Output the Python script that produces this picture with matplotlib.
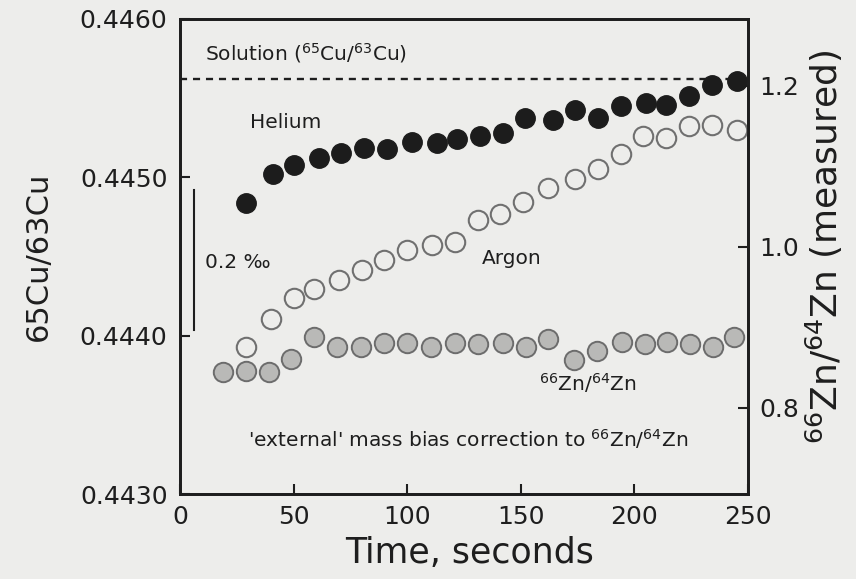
import matplotlib
matplotlib.use("Agg")
import matplotlib.pyplot as plt

# Helium: 65Cu/63Cu (left axis)
he_time = [29, 41, 50, 61, 71, 81, 91, 102, 113, 122, 132, 142, 152, 164, 174,
           184, 194, 205, 214, 224, 234, 245]
he_ratio = [0.44484, 0.445021, 0.445079, 0.445125, 0.445152, 0.445188, 0.445177,
            0.445225, 0.445215, 0.445240, 0.445260, 0.445281, 0.445375, 0.445365,
            0.445423, 0.445375, 0.445448, 0.445469, 0.445458, 0.445515, 0.445583,
            0.445610]

# Argon: 65Cu/63Cu (left axis)
ar_time = [29, 40, 50, 59, 70, 80, 90, 100, 111, 121, 131, 141, 151, 162, 174,
           184, 194, 204, 214, 224, 234, 245]
ar_ratio = [0.443927, 0.444104, 0.444240, 0.444292, 0.444354, 0.444417, 0.444479,
            0.444542, 0.444573, 0.444594, 0.444729, 0.444771, 0.444844, 0.444935,
            0.444990, 0.445052, 0.445146, 0.445260, 0.445250, 0.445323, 0.445333,
            0.445302]

# 66Zn/64Zn measured (right axis)
zn_time = [19, 29, 39, 49, 59, 69, 79.5, 90, 100, 110.5, 121, 131, 142, 152.5,
           162, 173.5, 183.5, 194.5, 204.5, 214.5, 224.5, 234.5, 244]
zn_ratio = [0.845, 0.846, 0.845, 0.861, 0.888, 0.876, 0.876, 0.881, 0.881, 0.876,
            0.881, 0.879, 0.881, 0.876, 0.885, 0.859, 0.871, 0.882, 0.879, 0.882,
            0.879, 0.876, 0.888]

solution_ratio = 0.44562

x_ticks = [0, 50, 100, 150, 200, 250]
cu_ticks = [0.4430, 0.4440, 0.4450, 0.4460]
zn_ticks = [0.8, 1.0, 1.2]

BG = "#ededeb"
INK = "#1e1e1e"

plt.rcParams["font.family"] = ["DejaVu Sans"]
plt.rcParams["mathtext.fontset"] = "dejavusans"

fig = plt.figure(figsize=(8.56, 5.79), dpi=100, facecolor=BG)
ax = fig.add_axes([180 / 856, 1 - 494 / 579, 568 / 856, 475 / 579])
ax2 = ax.twinx()

ax.set_xlim(0, 250)
ax.set_ylim(0.4430, 0.4460)
ax2.set_ylim(0.693, 1.283)

ax.set_xticks(x_ticks)
ax.set_xticklabels([str(v) for v in x_ticks])
ax.set_yticks(cu_ticks)
ax.set_yticklabels([f"{v:.4f}" for v in cu_ticks])
ax2.set_yticks(zn_ticks)
ax2.set_yticklabels([f"{v:.1f}" for v in zn_ticks])

for a in (ax, ax2):
    for s in a.spines.values():
        s.set_linewidth(2.0)
        s.set_color(INK)
ax.tick_params(axis="both", direction="in", length=7, width=1.5, colors=INK,
               labelsize=18)
ax.tick_params(axis="y", pad=9)
ax.tick_params(axis="x", pad=8)
ax2.tick_params(axis="y", direction="in", length=7, width=1.5, colors=INK,
                labelsize=18, pad=8)

# solution reference line
ax.axhline(solution_ratio, color=INK, linestyle=(0, (3, 2.5)), linewidth=1.7)

# data series
ax2.plot(zn_time, zn_ratio, linestyle="none", marker="o", markersize=14,
         markerfacecolor="#b9b9b7", markeredgecolor="#6c6c6c", markeredgewidth=1.4)
ax.plot(ar_time, ar_ratio, linestyle="none", marker="o", markersize=14,
        markerfacecolor="none", markeredgecolor="#707070", markeredgewidth=1.5)
ax.plot(he_time, he_ratio, linestyle="none", marker="o", markersize=14,
        markerfacecolor="#1c1c1c", markeredgecolor="#1c1c1c", markeredgewidth=1.0)
ax.set_zorder(ax2.get_zorder() + 1)
ax.patch.set_visible(False)
ax2.patch.set_facecolor(BG)

# 0.2 per mil scale bar
ax.plot([6.2, 6.2], [0.444035, 0.444920], color=INK, linewidth=1.5)

txt = dict(color=INK, fontsize=14.5)
ax.text(11, 0.445738, r"Solution ($^{65}$Cu/$^{63}$Cu)", ha="left", va="baseline", **txt)
ax.text(31, 0.445347, "Helium", ha="left", va="center", **txt)
ax.text(133, 0.44449, "Argon", ha="left", va="center", **txt)
ax.text(11, 0.444465, "0.2 ‰", ha="left", va="center", **txt)
ax.text(158, 0.44365, r"$^{66}$Zn/$^{64}$Zn", ha="left", va="baseline", **txt)
ax.text(127, 0.44330, r"'external' mass bias correction to $^{66}$Zn/$^{64}$Zn",
        ha="center", va="baseline", **txt)

ax.set_xlabel("Time, seconds", fontsize=25, color=INK, va="center")
ax.xaxis.set_label_coords(0.51, -(553 - 494) / 475)
ax.set_ylabel("65Cu/63Cu", fontsize=22, color=INK, va="center")
ax.yaxis.set_label_coords((38 - 180) / 568, 0.5)
ax2.set_ylabel(r"$^{66}$Zn/$^{64}$Zn (measured)", fontsize=26, color=INK,
               va="center", rotation=90)
ax2.yaxis.set_label_coords((824 - 180) / 568, 0.52)

fig.savefig("out.png", dpi=100, facecolor=BG)
